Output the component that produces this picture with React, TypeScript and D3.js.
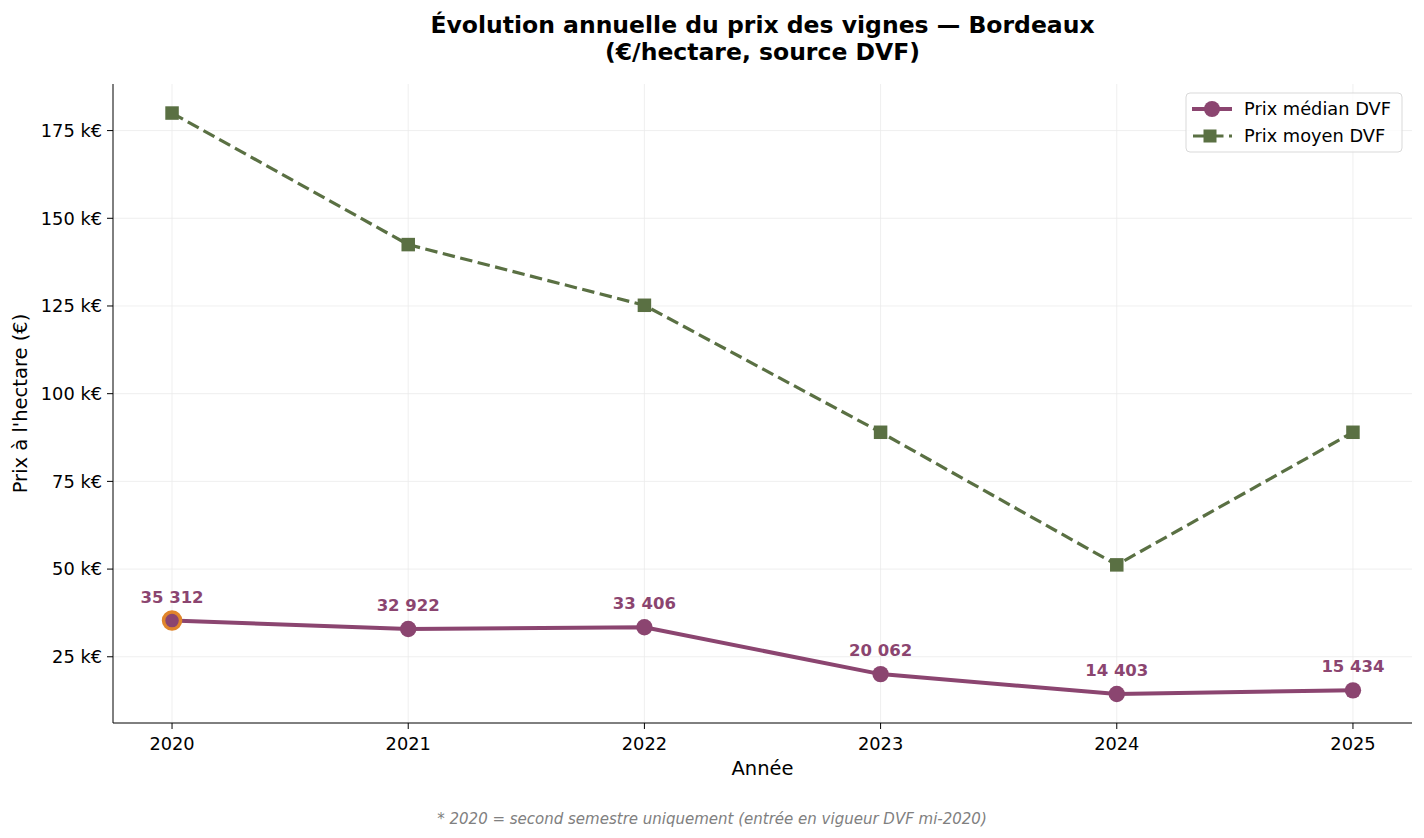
import React from 'react'
import * as d3 from 'd3'

const years = [2020, 2021, 2022, 2023, 2024, 2025]
const medianPrices = [35312, 32922, 33406, 20062, 14403, 15434]
const meanPrices = [180000, 142500, 125200, 89000, 51200, 89000]
const yTicks = [25000, 50000, 75000, 100000, 125000, 150000, 175000]

const W = 1424
const H = 838
const margin = { top: 84, right: 12, bottom: 115, left: 113 }
const FONT = 'DejaVu Sans'
const MEDIAN_COLOR = '#8b4570'
const MEAN_COLOR = '#5a7043'
const DASH = '12.5,5.5'
const fmt = (v: number) => d3.format(',')(v).replace(/,/g, ' ')

const App = () => {
  const x = d3.scaleLinear()
    .domain([2019.75, 2025.25])
    .range([margin.left, W - margin.right])

  const all = [...medianPrices, ...meanPrices]
  const lo = d3.min(all)!
  const hi = d3.max(all)!
  const pad = (hi - lo) * 0.05
  const y = d3.scaleLinear()
    .domain([lo - pad, hi + pad])
    .range([H - margin.bottom, margin.top])

  const median = years.map((yr, i) => ({ yr, v: medianPrices[i] }))
  const mean = years.map((yr, i) => ({ yr, v: meanPrices[i] }))
  const line = d3.line<{ yr: number, v: number }>().x(d => x(d.yr)).y(d => y(d.v))

  const [x0, x1] = x.range()
  const [y0, y1] = y.range()

  return (
    <svg width={W} height={H} style={{ display: 'block', position: 'absolute', left: 0, top: 0 }}>
      <rect width={W} height={H} fill='#fff' />

      {/* grid */}
      {years.map(t => (
        <line key={'gx' + t} x1={x(t)} x2={x(t)} y1={y1} y2={y0} stroke='#ebebeb' strokeWidth={0.8} />
      ))}
      {yTicks.map(t => (
        <line key={'gy' + t} x1={x0} x2={x1} y1={y(t)} y2={y(t)} stroke='#ebebeb' strokeWidth={0.8} />
      ))}

      {/* mean series */}
      <path d={line(mean)!} fill='none' stroke={MEAN_COLOR} strokeWidth={3.2} strokeDasharray={DASH} />
      {mean.map(d => (
        <rect key={'m' + d.yr} x={x(d.yr) - 6.75} y={y(d.v) - 6.75} width={13.5} height={13.5} fill={MEAN_COLOR} />
      ))}

      {/* median series */}
      <path d={line(median)!} fill='none' stroke={MEDIAN_COLOR} strokeWidth={4} strokeLinejoin='round' />
      {median.map((d, i) => (
        <g key={'md' + d.yr}>
          {i === 0
            ? <circle cx={x(d.yr)} cy={y(d.v)} r={8.5} fill={MEDIAN_COLOR} stroke='#e0852b' strokeWidth={3.5} />
            : <circle cx={x(d.yr)} cy={y(d.v)} r={8.2} fill={MEDIAN_COLOR} />}
          <text x={x(d.yr)} y={y(d.v) - 18} textAnchor='middle' fontFamily={FONT} fontSize={16.5} fontWeight='bold' fill={MEDIAN_COLOR}>
            {fmt(d.v)}
          </text>
        </g>
      ))}

      {/* spines */}
      <line x1={x0} x2={x0} y1={y1} y2={y0} stroke='#000' strokeWidth={1} />
      <line x1={x0} x2={x1} y1={y0} y2={y0} stroke='#000' strokeWidth={1} />

      {/* y axis */}
      {yTicks.map(t => (
        <g key={'yt' + t}>
          <line x1={x0 - 6} x2={x0} y1={y(t)} y2={y(t)} stroke='#000' />
          <text x={x0 - 11} y={y(t)} dy='0.36em' textAnchor='end' fontFamily={FONT} fontSize={17.8}>{`${t / 1000} k€`}</text>
        </g>
      ))}
      <text transform={`translate(27,${(y0 + y1) / 2}) rotate(-90)`} textAnchor='middle' fontFamily={FONT} fontSize={19.5}>
        Prix à l'hectare (€)
      </text>

      {/* x axis */}
      {years.map(t => (
        <g key={'xt' + t}>
          <line x1={x(t)} x2={x(t)} y1={y0} y2={y0 + 6} stroke='#000' />
          <text x={x(t)} y={750} textAnchor='middle' fontFamily={FONT} fontSize={17.8}>{t}</text>
        </g>
      ))}
      <text x={(x0 + x1) / 2} y={775} textAnchor='middle' fontFamily={FONT} fontSize={19.5}>Année</text>

      {/* title */}
      <text x={(x0 + x1) / 2} y={33} textAnchor='middle' fontFamily={FONT} fontSize={23.5} fontWeight='bold'>
        Évolution annuelle du prix des vignes — Bordeaux
      </text>
      <text x={(x0 + x1) / 2} y={60} textAnchor='middle' fontFamily={FONT} fontSize={23.5} fontWeight='bold'>
        (€/hectare, source DVF)
      </text>

      {/* legend */}
      <g transform='translate(1186,93)'>
        <rect x={0} y={0} width={216} height={59} rx={4} fill='#fff' fillOpacity={0.8} stroke='#d9d9d9' />
        <line x1={6} x2={46} y1={16} y2={16} stroke={MEDIAN_COLOR} strokeWidth={4} />
        <circle cx={26} cy={16} r={8} fill={MEDIAN_COLOR} />
        <text x={58} y={16} dy='0.36em' fontFamily={FONT} fontSize={17.8}>Prix médian DVF</text>
        <line x1={7} x2={46} y1={43} y2={43} stroke={MEAN_COLOR} strokeWidth={3.2} strokeDasharray={DASH} />
        <rect x={17.5} y={36.5} width={13} height={13} fill={MEAN_COLOR} />
        <text x={58} y={43} dy='0.36em' fontFamily={FONT} fontSize={17.8}>Prix moyen DVF</text>
      </g>

      {/* footnote */}
      <text x={W / 2} y={824} textAnchor='middle' fontFamily={FONT} fontSize={15} fontStyle='italic' fill='#808080'>
        * 2020 = second semestre uniquement (entrée en vigueur DVF mi-2020)
      </text>
    </svg>
  )
}

export default App
